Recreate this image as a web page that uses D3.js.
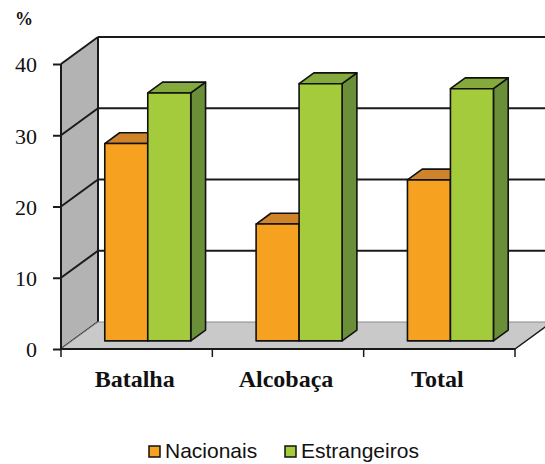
<!DOCTYPE html>
<html>
<head>
<meta charset="utf-8">
<script src="https://cdn.jsdelivr.net/npm/d3@7"></script>
<style>
  body { margin: 0; background: #fff; }
  svg { display: block; }
  .ylab text { font-family: "Liberation Serif", "Times New Roman", serif; font-size: 22px; fill: #111; }
  .xlab text { font-family: "Liberation Serif", "Times New Roman", serif; font-size: 24px; font-weight: bold; fill: #111; }
  .legend text { font-family: "Liberation Sans", Arial, sans-serif; font-size: 21px; fill: #111; }
</style>
</head>
<body>
<script>
// chart values
var categories = ["Batalha", "Alcobaça", "Total"];
var seriesNames = ["Nacionais", "Estrangeiros"];
var nacionais = [27.7, 16.4, 22.6];
var estrangeiros = [34.8, 36.1, 35.4];
var yTicks = [0, 10, 20, 30, 40];

var W = 545, H = 464;
var svg = d3.select("body").append("svg").attr("width", W).attr("height", H);

// 3d box: front plane, and how far back the walls go
var depthX = 37, depthY = -27;
var x0 = 61, x1 = 515;
var y = d3.scaleLinear().domain([0, 40]).range([349, 64]);
var xBand = d3.scaleBand().domain(categories).range([x0, x1]).padding(0);
var xInner = d3.scaleBand().domain(seriesNames).range([0, xBand.bandwidth()])
    .paddingInner(0).paddingOuter(0.76);

// project a point at depth fraction z (0 = front, 1 = back wall)
function proj(px, py, z) { return [px + z * depthX, py + z * depthY]; }
function pts(arr) { return arr.map(function(p) { return p.join(","); }).join(" "); }

var lineCol = "#1a1a1a";

// left wall
svg.append("polygon")
    .attr("points", pts([[x0, y(40)], proj(x0, y(40), 1), proj(x0, y(0), 1), [x0, y(0)]]))
    .attr("fill", "#b3b3b3");

// gridlines: diagonal on left wall + horizontal on back wall
var grid = svg.append("g").attr("stroke", lineCol).attr("stroke-width", 2).attr("fill", "none");
yTicks.forEach(function(v) {
    var b = proj(x0, y(v), 1);
    grid.append("line").attr("x1", x0).attr("y1", y(v)).attr("x2", b[0]).attr("y2", b[1]);
    if (v > 0) grid.append("line").attr("x1", b[0]).attr("y1", b[1]).attr("x2", W).attr("y2", b[1]);
});
grid.append("line")
    .attr("x1", x0 + depthX).attr("y1", y(40) + depthY)
    .attr("x2", x0 + depthX).attr("y2", y(0) + depthY);
grid.append("line").attr("x1", x0).attr("y1", y(40)).attr("x2", x0).attr("y2", y(0));

// floor
svg.append("polygon")
    .attr("points", pts([[x0, y(0)], proj(x0, y(0), 1), proj(x1, y(0), 1), [x1, y(0)]]))
    .attr("fill", "#c9c9c9").attr("stroke", "#8a8a8a").attr("stroke-width", 1);
svg.append("line").attr("x1", x0).attr("y1", y(0)).attr("x2", x1).attr("y2", y(0))
    .attr("stroke", lineCol).attr("stroke-width", 2);
svg.append("line").attr("x1", x1).attr("y1", y(0)).attr("x2", x1 + depthX).attr("y2", y(0) + depthY)
    .attr("stroke", lineCol).attr("stroke-width", 1.5);

// bars
var colors = {
    "Nacionais": { front: "#f6a11f", top: "#d0842a", side: "#b4701f" },
    "Estrangeiros": { front: "#a3cb3b", top: "#84a93c", side: "#6b8f39" }
};
var zFront = 0.3, zBack = 0.7;
var barData = [];
categories.forEach(function(c, i) {
    barData.push({ cat: c, s: "Nacionais", v: nacionais[i] });
    barData.push({ cat: c, s: "Estrangeiros", v: estrangeiros[i] });
});

var bars = svg.append("g").attr("stroke", "#111").attr("stroke-width", 1.6)
    .attr("stroke-linejoin", "round")
    .selectAll("g").data(barData).enter().append("g");

bars.each(function(d) {
    var g = d3.select(this);
    var bx = xBand(d.cat) + xInner(d.s), bw = xInner.bandwidth();
    var fl = proj(bx, y(0), zFront), fr = proj(bx + bw, y(0), zFront);
    var tl = proj(bx, y(d.v), zFront), tr = proj(bx + bw, y(d.v), zFront);
    var dz = zBack - zFront;
    var bk = function(p) { return [p[0] + dz * depthX, p[1] + dz * depthY]; };
    g.append("polygon").attr("points", pts([tr, bk(tr), bk(fr), fr])).attr("fill", colors[d.s].side);
    g.append("polygon").attr("points", pts([tl, bk(tl), bk(tr), tr])).attr("fill", colors[d.s].top);
    g.append("polygon").attr("points", pts([tl, tr, fr, fl])).attr("fill", colors[d.s].front);
});

// y axis labels
var yAxis = d3.axisLeft(y).tickValues(yTicks).tickSize(8).tickPadding(16);
var ya = svg.append("g").attr("class", "ylab").attr("transform", "translate(" + x0 + ",0)").call(yAxis);
ya.select(".domain").remove();
ya.selectAll(".tick line").attr("stroke", lineCol).attr("stroke-width", 2);
ya.selectAll(".tick text").attr("dy", "0.36em");

// category boundary ticks
var bounds = categories.map(function(c) { return xBand(c); }).concat([x1]);
svg.append("g").selectAll("line").data(bounds).enter().append("line")
    .attr("x1", function(d) { return d; }).attr("x2", function(d) { return d; })
    .attr("y1", y(0)).attr("y2", y(0) + 8)
    .attr("stroke", lineCol).attr("stroke-width", 1.5);

var xAxis = d3.axisBottom(xBand).tickSize(0).tickPadding(0);
var xa = svg.append("g").attr("class", "xlab").attr("transform", "translate(0," + y(0) + ")").call(xAxis);
xa.select(".domain").remove();
xa.selectAll(".tick text").attr("dy", null).attr("y", 38).attr("dx", -2);

svg.append("text").attr("x", 15).attr("y", 25)
    .style("font-family", "'Liberation Serif', serif").style("font-size", "18px")
    .style("font-weight", "bold").attr("fill", "#111").text("%");

// legend
var legend = svg.append("g").attr("class", "legend");
var legX = [149, 285];
seriesNames.forEach(function(s, i) {
    legend.append("rect").attr("x", legX[i]).attr("y", 446).attr("width", 11).attr("height", 11)
        .attr("fill", colors[s].front).attr("stroke", "#111").attr("stroke-width", 1.5);
    legend.append("text").attr("x", legX[i] + 16).attr("y", 458).text(s);
});
</script>
</body>
</html>
